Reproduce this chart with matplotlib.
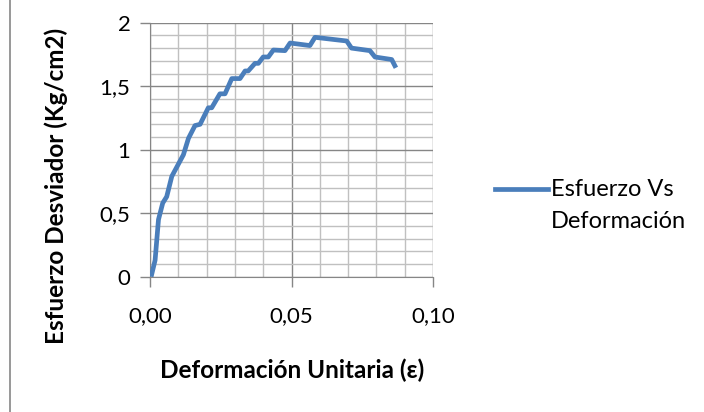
import numpy as np
import matplotlib
matplotlib.use('Agg')
import matplotlib.pyplot as plt
from matplotlib.lines import Line2D

plt.rcParams['font.family'] = ['Lato', 'DejaVu Sans']

# deformacion unitaria / esfuerzo desviador
deformacion = [0.0004, 0.0018, 0.0030, 0.0045, 0.0059, 0.0077, 0.0118, 0.0136, 0.0159, 0.0177,
               0.0206, 0.0218, 0.0247, 0.0265, 0.0289, 0.0318, 0.0336, 0.0347, 0.0371, 0.0383,
               0.0400, 0.0418, 0.0436, 0.0477, 0.0495, 0.0565, 0.0583, 0.0695, 0.0712, 0.0777,
               0.0795, 0.0854, 0.0869]
esfuerzo = [0.00, 0.13, 0.45, 0.58, 0.63, 0.79, 0.96, 1.09, 1.19, 1.20,
            1.33, 1.33, 1.44, 1.44, 1.56, 1.56, 1.62, 1.62, 1.68, 1.68,
            1.73, 1.73, 1.785, 1.78, 1.84, 1.82, 1.885, 1.856, 1.80, 1.78,
            1.73, 1.71, 1.645]

x_ticks = [0.0, 0.05, 0.10]
x_labels = ['0,00', '0,05', '0,10']
y_ticks = [0, 0.5, 1, 1.5, 2]
y_labels = ['0', '0,5', '1', '1,5', '2']
leyenda = ['Esfuerzo Vs', 'Deformación']

azul = '#4a7ebb'

fig = plt.figure(figsize=(7.04, 4.12), dpi=100)
ax = fig.add_axes([150 / 704, 1 - 276.7 / 412, 283 / 704, 254 / 412])

ax.plot(deformacion, esfuerzo, color=azul, lw=3.4, solid_joinstyle='round', solid_capstyle='butt', zorder=3)

ax.set_xlim(0, 0.10)
ax.set_ylim(0, 2)
ax.set_xticks(x_ticks)
ax.set_xticklabels(x_labels)
ax.set_yticks(y_ticks)
ax.set_yticklabels(y_labels)
ax.set_xticks(np.arange(0, 0.1001, 0.01), minor=True)
ax.set_yticks(np.arange(0, 2.001, 0.1), minor=True)

ax.grid(which='major', color='#868686', lw=1.0)
ax.grid(which='minor', color='#c0c0c0', lw=1.0)
ax.tick_params(which='minor', length=0)
ax.tick_params(which='major', length=7, width=1, color='#868686', labelsize=16, pad=7)
ax.tick_params(axis='x', pad=14)

for s in ['top', 'right']:
    ax.spines[s].set_visible(False)
for s in ['left', 'bottom']:
    ax.spines[s].set_color('#868686')

ax.set_xlabel('Deformación Unitaria (ε)', fontsize=17.5, fontweight='bold')
ax.set_ylabel('Esfuerzo Desviador (Kg/cm2)', fontsize=17.5, fontweight='bold')
ax.xaxis.set_label_coords((291.7 - 150) / 283, (276.7 - 370) / 254)
ax.yaxis.set_label_coords((56 - 150) / 283, (276.7 - 186) / 254)
ax.xaxis.label.set_va('center')
ax.yaxis.label.set_va('center')

# leyenda
fig.add_artist(Line2D([495 / 704, 548 / 704], [1 - 189 / 412, 1 - 189 / 412], color=azul, lw=3.4))
for i, t in enumerate(leyenda):
    fig.text(551 / 704, 1 - (190 + 32 * i) / 412, t, fontsize=17, va='center', ha='left')

# borde izquierdo
fig.add_artist(Line2D([10 / 704, 10 / 704], [0, 1], color='#868686', lw=1.2))

plt.savefig('out.png', dpi=100)
